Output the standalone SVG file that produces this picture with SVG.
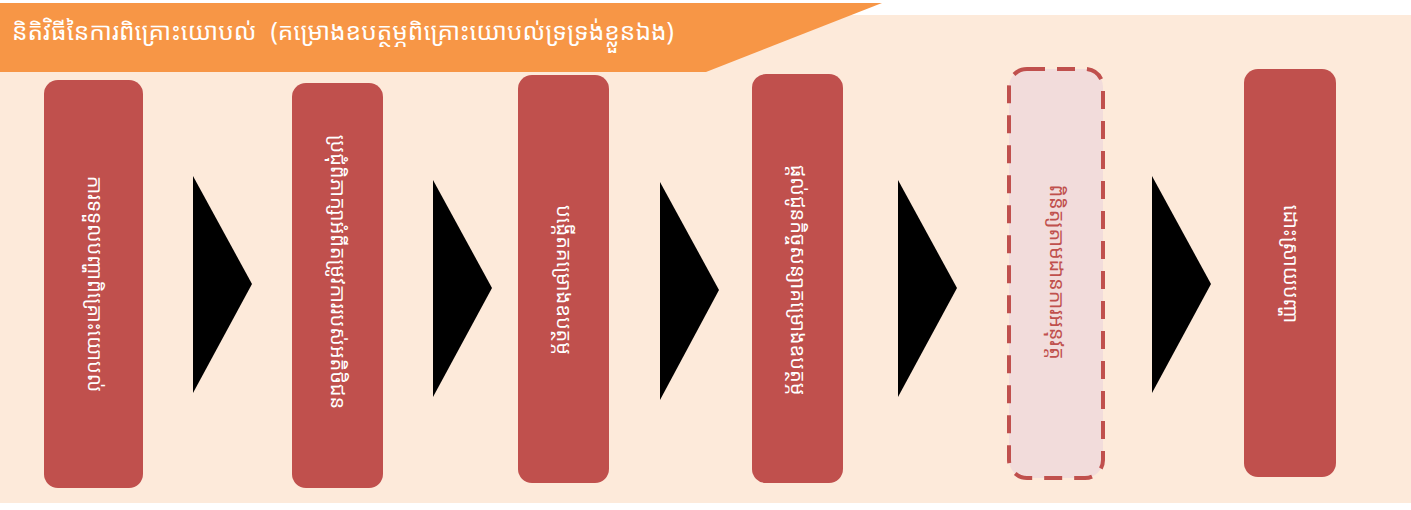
<svg xmlns="http://www.w3.org/2000/svg" width="1411" height="510" viewBox="0 0 1411 510">
<style>
.box{fill:#C0504D;}
.opt{fill:#F2DCDB;stroke:#C0504D;stroke-width:4;stroke-dasharray:18 12;}
.t{font-family:"Noto Sans Khmer","Khmer OS","Khmer OS System","Leelawadee UI","Noto Sans",sans-serif;font-size:20px;fill:#FFFFFF;text-anchor:middle;dominant-baseline:central;}
.t2{fill:#C0504D;}
.title{font-family:"Noto Sans Khmer","Khmer OS","Khmer OS System","Noto Sans",sans-serif;font-size:24.5px;fill:#FFFFFF;}
.arr{fill:#000000;}
</style>
<rect x="0" y="0" width="1411" height="510" fill="#FFFFFF"/>
<rect x="0" y="15" width="1411" height="488" fill="#FDEADA"/>
<g id="banner">
<polygon points="0,3 882,3 706,72 0,72" fill="#F79646"/>
<text class="title" x="12" y="40">និតិវិធីនៃការពិគ្រោះយោបល់<tspan dx="14">(គម្រោងឧបត្ថម្ភពិគ្រោះយោបល់ទ្រទ្រង់ខ្លួនឯង)</tspan></text>
</g>
<g id="connectors">
<polygon class="arr" points="193,176 193,393 252,284"/>
<polygon class="arr" points="433,180 433,397 492,288"/>
<polygon class="arr" points="660,182 660,400 719,290"/>
<polygon class="arr" points="898,180 898,397 957,288"/>
<polygon class="arr" points="1152,176 1152,393 1211,284"/>
</g>
<g id="node1">
<rect class="box" x="44" y="80" width="99" height="408" rx="14"/>
<text class="t" transform="translate(95,284) rotate(90)">ការទទួលបញ្ហាពិគ្រោះយោបល់</text>
</g>
<g id="node2">
<rect class="box" x="292" y="83" width="91" height="405" rx="14"/>
<text class="t" transform="translate(338,272) rotate(90)">ប្រជុំពិភាក្សាអំពីតម្រូវការរបស់អតិថិជន</text>
</g>
<g id="node3">
<rect class="box" x="518" y="75" width="91" height="408" rx="14"/>
<text class="t" transform="translate(564,280) rotate(90)">បង្កើតគម្រោងឧបត្ថម្ភ</text>
</g>
<g id="node4">
<rect class="box" x="752" y="74" width="91" height="409" rx="14"/>
<text class="t" transform="translate(798,280) rotate(90)">ផ្តល់ជូនកិច្ចសន្យាគម្រោងឧបត្ថម្ភ</text>
</g>
<g id="node5">
<rect class="opt" x="1009" y="69" width="94" height="409" rx="18"/>
<text class="t t2" transform="translate(1057,272) rotate(90)">ពិនិត្យតាមដានការអនុវត្ត</text>
</g>
<g id="node6">
<rect class="box" x="1244" y="69" width="92" height="408" rx="14"/>
<text class="t" transform="translate(1291,264) rotate(90)">ដោះស្រាយបញ្ហា</text>
</g>
</svg>
